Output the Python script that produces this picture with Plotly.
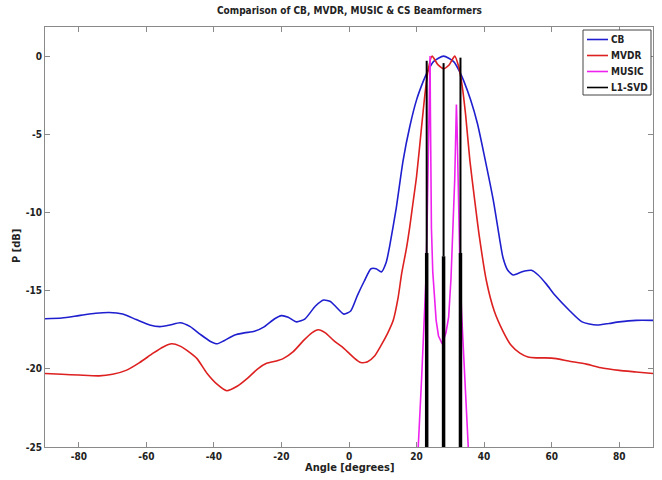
import plotly.graph_objects as go

# ---------------- data ----------------
cb_angle = [-90, -85, -80, -75, -71, -67, -63, -59, -56, -53, -50, -47, -44, -41, -39, -37,
            -34, -31, -28, -25, -22, -20, -18, -15.5, -13, -10, -7.5, -5.5, -4, -1.5, 0.5,
            2.5, 4.5, 6.5, 8, 9.6, 11, 12, 14, 16, 18, 20, 22, 23, 25, 28, 31, 33, 34, 36,
            38, 40, 42.7, 44.6, 45.6, 47, 48.6, 50, 52, 54, 56, 58.5, 61, 65.4, 69, 73.3,
            77, 80, 85, 90]
cb_db = [-16.8, -16.75, -16.6, -16.45, -16.4, -16.5, -16.85, -17.2, -17.3, -17.2, -17.05,
         -17.3, -17.8, -18.25, -18.4, -18.2, -17.85, -17.7, -17.6, -17.3, -16.8, -16.6,
         -16.7, -17.0, -16.8, -16.0, -15.6, -15.7, -16.0, -16.5, -16.3, -15.3, -14.4,
         -13.6, -13.6, -13.8, -13.2, -12.2, -9.7, -6.7, -4.5, -2.8, -1.6, -1.1, -0.35, 0.0,
         -0.35, -1.1, -1.6, -2.8, -4.3, -6.3, -9.2, -11.7, -12.9, -13.7, -14.0, -13.9,
         -13.75, -13.7, -14.0, -14.6, -15.3, -16.3, -17.0, -17.2, -17.1, -17.0, -16.9, -16.9]

mvdr_angle = [-90, -85, -80, -74, -70, -66, -62, -58, -55, -52.5, -50, -47.5, -45, -42, -39,
              -36.2, -33, -30, -27, -24.4, -21.5, -19.5, -16.5, -13.5, -11, -9.1, -7, -4.5,
              -2, 0, 1.5, 3.5, 5.5, 7.5, 9.5, 11.5, 13.1, 14.5, 15.6, 17, 18, 19, 20, 21.5,
              22.5, 23.5, 24.6, 26.3, 28, 29.7, 31.3, 32.5, 33.5, 34.5, 35.8, 37.2, 38.5,
              40.7, 43, 45.6, 48, 50.6, 53, 55.5, 58, 61.4, 65, 70.3, 75, 80, 85, 90]
mvdr_db = [-20.3, -20.35, -20.4, -20.45, -20.35, -20.1, -19.6, -19.0, -18.6, -18.4, -18.55,
           -18.9, -19.35, -20.3, -21.0, -21.4, -21.1, -20.6, -20.0, -19.65, -19.5, -19.35,
           -18.9, -18.2, -17.7, -17.5, -17.7, -18.2, -18.6, -19.0, -19.3, -19.6, -19.55,
           -19.2, -18.5, -17.7, -16.9, -15.5, -13.9, -12.3, -10.9, -9.3, -7.7, -4.5, -2.4,
           -0.8, 0.0, -0.55, -0.8, -0.55, 0.0, -0.7, -1.9, -3.7, -6.7, -9.2, -11.4, -14.4,
           -16.3, -17.6, -18.5, -19.0, -19.25, -19.3, -19.3, -19.35, -19.5, -19.7, -19.95,
           -20.1, -20.2, -20.3]

music_angle = [19.5, 20.5, 21.5, 22.5, 22.8, 23.1, 23.4, 23.65, 23.85, 24.0, 24.08, 24.15,
               24.4, 24.8, 25.3, 25.8, 26.5, 27.6, 28.7, 29.5, 30.2, 30.8, 31.3, 31.6, 31.8,
               32.0, 32.4, 32.8, 33.3, 34.3, 35.3, 36.0]
music_db = [-28.0, -25.0, -20.6, -16.3, -14.2, -11.0, -7.9, -4.0, -1.2, 0.0, -3.0, -7.9,
            -11.0, -13.8, -15.7, -16.9, -17.9, -18.4, -17.7, -16.7, -14.2, -11.0, -7.9,
            -5.0, -3.1, -4.6, -9.0, -13.0, -16.3, -20.6, -25.0, -28.0]

l1_angle = [23, 28, 33]
l1_peak = [-0.3, -0.45, -0.1]
l1_knee = [-12.6, -12.8, -12.6]
l1_floor = -40.0

x_ticks = [-80, -60, -40, -20, 0, 20, 40, 60, 80]
y_ticks = [-25, -20, -15, -10, -5, 0]

series_names = ["CB", "MVDR", "MUSIC", "L1-SVD"]
series_colors = ["#1f1fcf", "#dd2020", "#ee22ee", "#000000"]

FONT = "Liberation Sans Narrow, Arial Narrow, DejaVu Sans Condensed, sans-serif"
GRAY = "#8a8a8a"
TXT = "#222222"

W, H = 662, 480
ML, MR, MT, MB = 45, 9, 27, 33
PW, PH = W - ML - MR, H - MT - MB


def px_x(px):
    return (px - ML) / PW


def px_y(py):
    return (H - MB - py) / PH


fig = go.Figure()
fig.add_trace(go.Scatter(x=cb_angle, y=cb_db, mode="lines", name="CB", showlegend=False,
                         line=dict(color=series_colors[0], width=1.6, shape="spline", smoothing=0.6)))
fig.add_trace(go.Scatter(x=mvdr_angle, y=mvdr_db, mode="lines", name="MVDR", showlegend=False,
                         line=dict(color=series_colors[1], width=1.6, shape="spline", smoothing=0.6)))
fig.add_trace(go.Scatter(x=music_angle, y=music_db, mode="lines", name="MUSIC", showlegend=False,
                         line=dict(color=series_colors[2], width=1.6)))

# L1-SVD: thin upper part and thick lower part
xs_thin, ys_thin, xs_thick, ys_thick = [], [], [], []
for a, p, k in zip(l1_angle, l1_peak, l1_knee):
    xs_thin += [a, a, None]
    ys_thin += [k, p, None]
    xs_thick += [a, a, None]
    ys_thick += [l1_floor, k, None]
fig.add_trace(go.Scatter(x=xs_thin, y=ys_thin, mode="lines", name="L1-SVD", showlegend=False,
                         line=dict(color="black", width=2)))
fig.add_trace(go.Scatter(x=xs_thick, y=ys_thick, mode="lines", name="L1-SVD",
                         showlegend=False, line=dict(color="black", width=3.5)))

axis_common = dict(showline=True, linecolor=GRAY, linewidth=1, mirror="ticks",
                   ticks="inside", ticklen=5, tickcolor=GRAY, showgrid=False, zeroline=False,
                   automargin=False,
                   tickfont=dict(family=FONT, size=10, color=TXT, weight="bold"))
fig.update_xaxes(range=[-90, 90], tickvals=x_ticks, ticktext=[str(v) for v in x_ticks],
                 **axis_common)
fig.update_yaxes(range=[-25, 1.86], tickvals=y_ticks, ticktext=[str(v) for v in y_ticks],
                 **axis_common)

# compact MATLAB-style legend box
shapes = [dict(type="rect", xref="paper", yref="paper",
               x0=px_x(583), x1=px_x(651), y0=px_y(95), y1=px_y(30),
               line=dict(color="#444444", width=1), fillcolor="white", layer="above")]
annotations = []
item_y = [39.5, 55.5, 71.5, 87.5]
for nm, col, yy in zip(series_names, series_colors, item_y):
    shapes.append(dict(type="line", xref="paper", yref="paper",
                       x0=px_x(587), x1=px_x(608), y0=px_y(yy), y1=px_y(yy),
                       line=dict(color=col, width=1.6), layer="above"))
    annotations.append(dict(text="<b>%s</b>" % nm, x=px_x(609), y=px_y(yy),
                            xref="paper", yref="paper", showarrow=False,
                            xanchor="left", yanchor="middle",
                            font=dict(family=FONT, size=10, color=TXT)))

annotations += [
    dict(text="<b>Comparison of CB, MVDR, MUSIC & CS Beamformers</b>", x=0.5, y=px_y(11),
         xref="paper", yref="paper", showarrow=False, xanchor="center", yanchor="middle",
         font=dict(family=FONT, size=10, color=TXT)),
    dict(text="<b>Angle [degrees]</b>", x=0.5, y=px_y(467), xref="paper", yref="paper",
         showarrow=False, xanchor="center", yanchor="middle",
         font=dict(family=FONT, size=11, color=TXT)),
    dict(text="<b>P [dB]</b>", x=px_x(17), y=px_y(246), xref="paper", yref="paper",
         showarrow=False, xanchor="center", yanchor="middle", textangle=-90,
         font=dict(family=FONT, size=11, color=TXT)),
]

fig.update_layout(
    width=W, height=H,
    margin=dict(l=ML, r=MR, t=MT, b=MB, autoexpand=False),
    paper_bgcolor="white", plot_bgcolor="white",
    showlegend=False,
    hovermode=False,
    shapes=shapes,
    annotations=annotations,
)

fig.write_html("out.html", config={"displayModeBar": False},
               post_script="document.body.style.margin='0';document.body.style.padding='0';")
